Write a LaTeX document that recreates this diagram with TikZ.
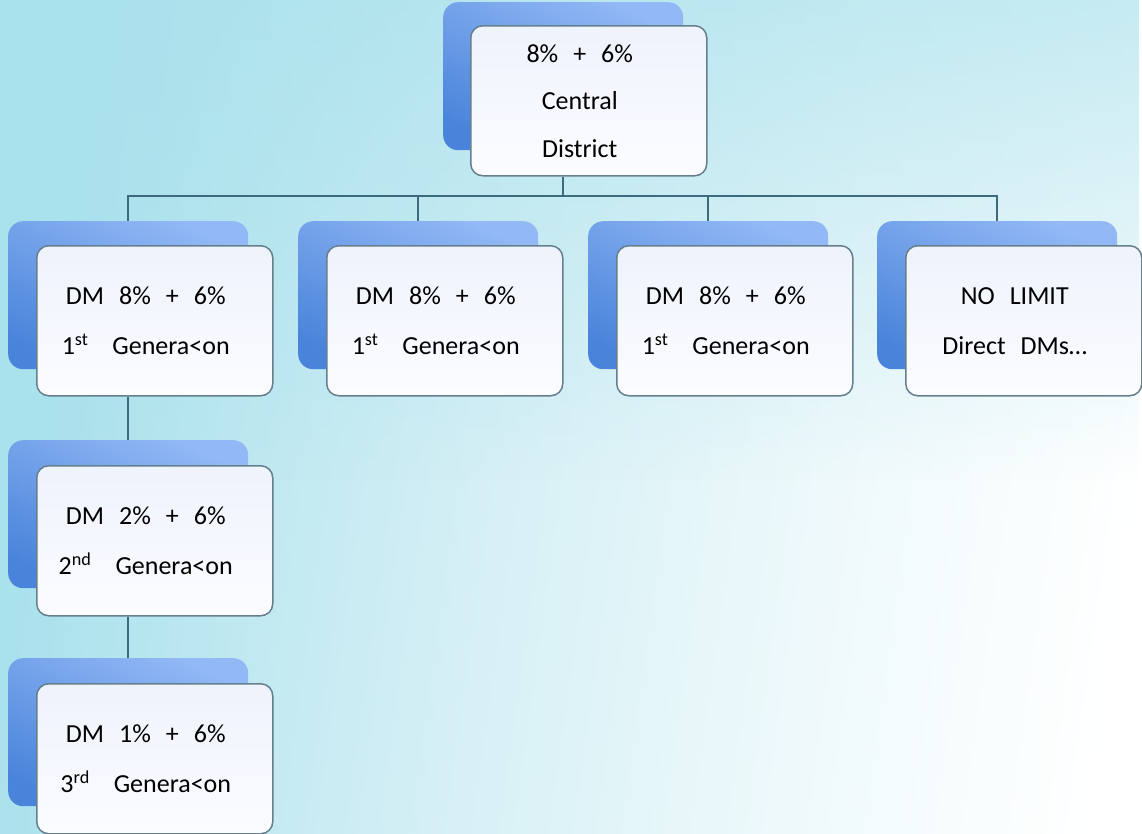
\documentclass[tikz,border=0pt]{standalone}
\usepackage{fontspec}
\setmainfont{Carlito}
\usetikzlibrary{fadings}
\definecolor{bgcyan}{HTML}{A9E1EC}
\definecolor{bgmid}{HTML}{D4EFF5}
\definecolor{bglight}{HTML}{EEF9FB}
\definecolor{shtop}{HTML}{92B8F5}
\definecolor{shbot}{HTML}{4A84DA}
\definecolor{fronttop}{HTML}{EEF3FC}
\definecolor{frontbot}{HTML}{FBFCFF}
\definecolor{edge}{HTML}{667F8D}
\definecolor{wire}{HTML}{3E6A7E}
\pgfdeclarehorizontalshading{bgsh}{100bp}{color(0bp)=(bgcyan); color(26bp)=(bgcyan); color(46bp)=(bgmid); color(62bp)=(bglight); color(76bp)=(white); color(100bp)=(white)}
\tikzfading[name=topfade, top color=transparent!35, bottom color=transparent!100]
\newcommand{\wsp}{\hspace{15pt}}
\newcommand{\gen}[2]{#1\textsuperscript{#2}\hspace{24pt}Genera<on}
\begin{document}
\begin{tikzpicture}[x=1pt,y=-1pt,
  backbox/.style={anchor=north west, inner sep=0pt, minimum width=240pt,
    minimum height=148pt, rounded corners=15pt,
    top color=shtop, bottom color=shbot, shading angle=-25},
  frontbox/.style={anchor=north west, inner sep=0pt, minimum width=236pt,
    minimum height=150pt, rounded corners=12pt, draw=edge, line width=1.5pt,
    top color=fronttop, bottom color=frontbot},
  boxtext/.style={align=center, inner sep=0pt,
    font=\fontsize{26pt}{50pt}\selectfont},
  conn/.style={draw=wire, line width=2pt}]
% page and background: horizontal wash, with extra cyan along the top
\useasboundingbox (0,0) rectangle (1142,833);
\shade[shading=bgsh, shading angle=-8] (0,0) rectangle (1142,833);
\fill[bgcyan, path fading=topfade] (0,0) rectangle (1142,480);

% root
\node[backbox] (tops) at (443,2) {};
\node[frontbox] (top) at (470,25) {};
\node[boxtext, font=\fontsize{26pt}{47.5pt}\selectfont] (topt)
  at ([xshift=-9pt]top.center) {8\%\wsp+\wsp6\%\\Central\\District};

% first generation row
\node[backbox] (c1s) at (8,221) {};
\node[frontbox] (c1) at (36,245) {};
\node[boxtext] (c1t) at ([xshift=-9pt]c1.center) {DM\wsp 8\%\wsp+\wsp6\%\\\gen{1}{st}};
\node[backbox] (c2s) at (298,221) {};
\node[frontbox] (c2) at (326,245) {};
\node[boxtext] (c2t) at ([xshift=-9pt]c2.center) {DM\wsp 8\%\wsp+\wsp6\%\\\gen{1}{st}};
\node[backbox] (c3s) at (588,221) {};
\node[frontbox] (c3) at (616,245) {};
\node[boxtext] (c3t) at ([xshift=-9pt]c3.center) {DM\wsp 8\%\wsp+\wsp6\%\\\gen{1}{st}};
\node[backbox] (c4s) at (877,221) {};
\node[frontbox] (c4) at (905,245) {};
\node[boxtext] (c4t) at ([xshift=-9pt]c4.center) {NO\wsp LIMIT\\Direct\wsp DMs\ldots};

% deeper generations
\node[backbox] (d2s) at (8,440) {};
\node[frontbox] (d2) at (36,465) {};
\node[boxtext] (d2t) at ([xshift=-9pt]d2.center) {DM\wsp 2\%\wsp+\wsp6\%\\\gen{2}{nd}};
\node[backbox] (d3s) at (8,658) {};
\node[frontbox] (d3) at (36,683) {};
\node[boxtext] (d3t) at ([xshift=-9pt]d3.center) {DM\wsp 1\%\wsp+\wsp6\%\\\gen{3}{rd}};

% connectors
\coordinate (bus) at (0,196);
\draw[conn] (tops.center |- top.south) -- (tops.center |- bus);
\draw[conn] (c1s.north) -- (c1s.north |- bus) -- (c4s.north |- bus) -- (c4s.north);
\draw[conn] (c2s.north |- bus) -- (c2s.north);
\draw[conn] (c3s.north |- bus) -- (c3s.north);
\draw[conn] (c1s.center |- c1.south) -- (d2s.north);
\draw[conn] (d2s.center |- d2.south) -- (d3s.north);
\end{tikzpicture}
\end{document}
